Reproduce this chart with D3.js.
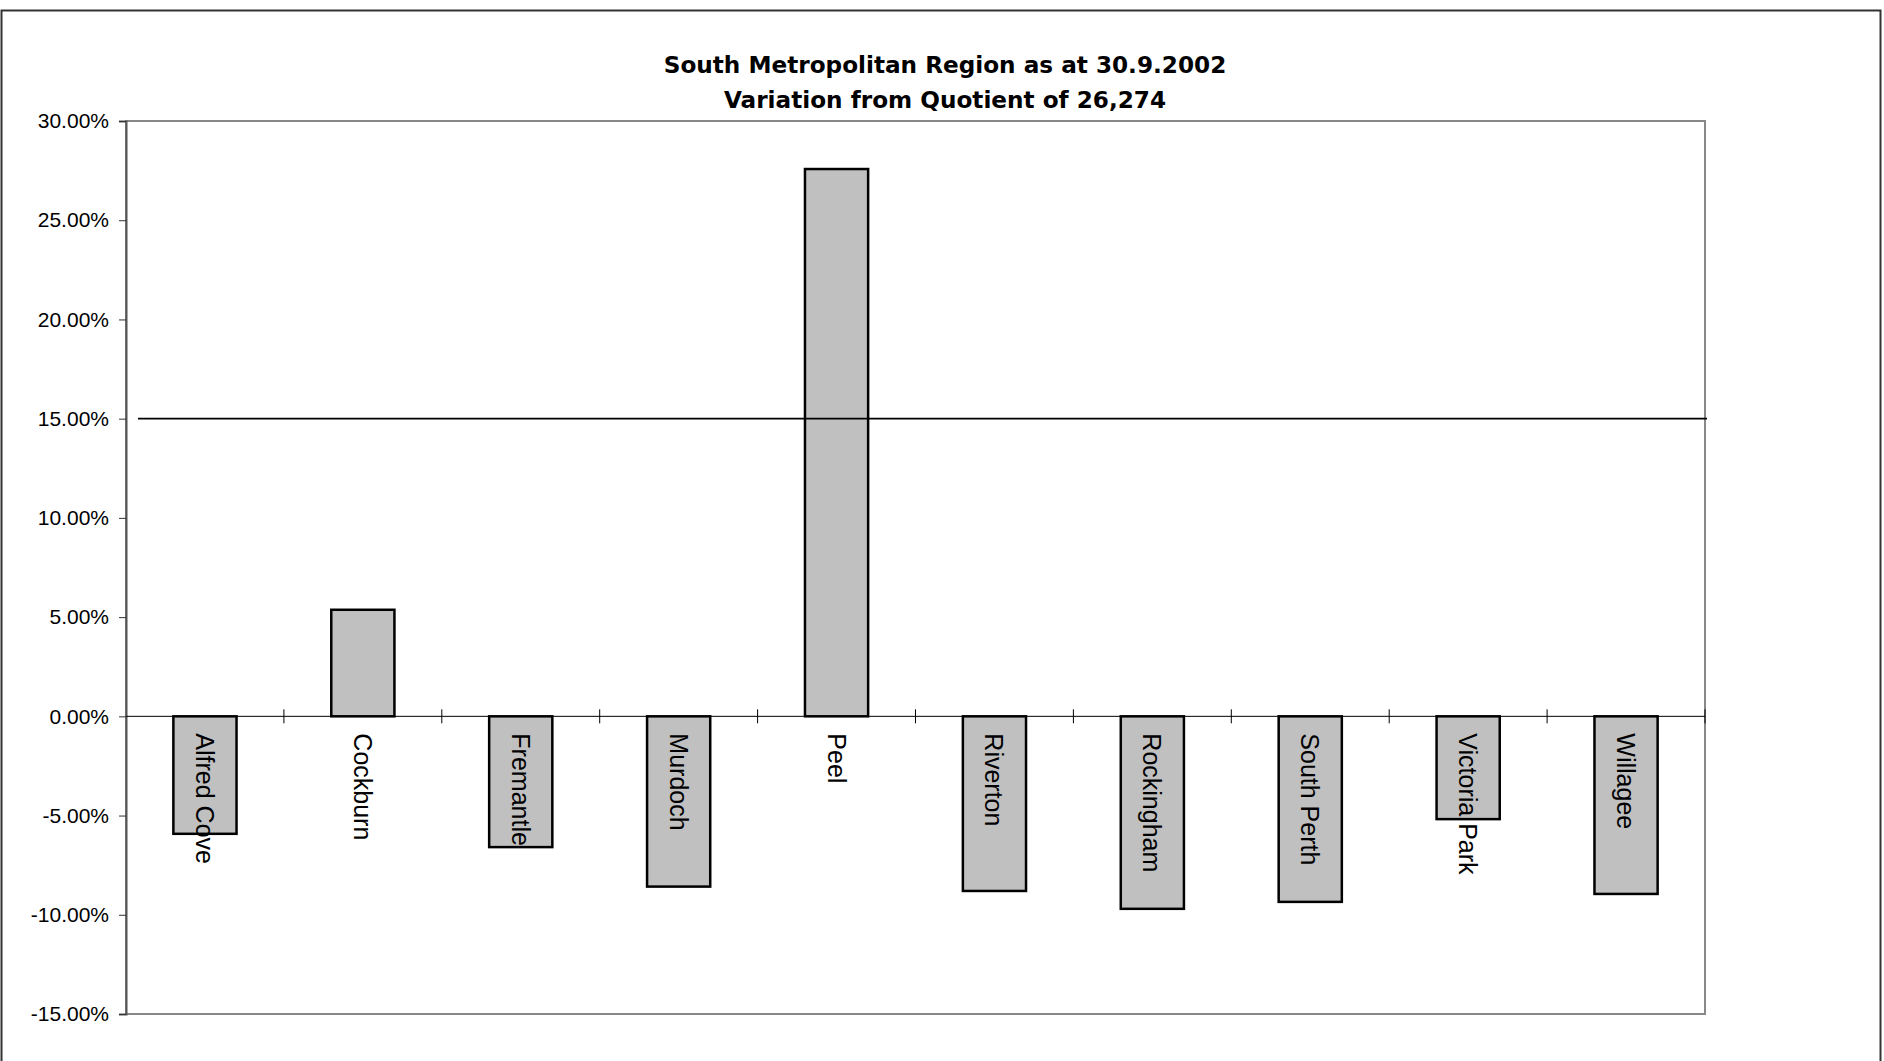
<!DOCTYPE html>
<html>
<head>
<meta charset="utf-8">
<script src="https://cdn.jsdelivr.net/npm/d3@7"></script>
<style>
  html, body { margin: 0; padding: 0; background: #fff; }
  svg { display: block; }
</style>
</head>
<body>
<svg id="chart" width="1884" height="1061"></svg>
<script>
// ---- data ----
const titleLines = ["South Metropolitan Region as at 30.9.2002", "Variation from Quotient of 26,274"];
const categories = ["Alfred Cove", "Cockburn", "Fremantle", "Murdoch", "Peel", "Riverton", "Rockingham", "South Perth", "Victoria Park", "Willagee"];
const variation = [-5.92, 5.37, -6.59, -8.58, 27.58, -8.80, -9.70, -9.35, -5.18, -8.95];
const yTicks = [-15, -10, -5, 0, 5, 10, 15, 20, 25, 30];
const yDomain = [-15, 30];
const toleranceLine = 15;

// ---- layout ----
const svg = d3.select("#chart");
const plot = { left: 126, top: 121, right: 1705, bottom: 1014 };

// outer frame
svg.append("rect")
  .attr("x", 1.5).attr("y", 10.5)
  .attr("width", 1879).attr("height", 1200)
  .attr("fill", "none").attr("stroke", "#333").attr("stroke-width", 2);

const x = d3.scaleBand().domain(categories)
  .range([plot.left, plot.right]).paddingInner(0.6).paddingOuter(0.3);
const slot = d3.scaleBand().domain(categories)
  .range([plot.left, plot.right]).padding(0);
const y = d3.scaleLinear().domain(yDomain).range([plot.bottom, plot.top]);

// plot area border
svg.append("rect")
  .attr("x", plot.left).attr("y", plot.top)
  .attr("width", plot.right - plot.left).attr("height", plot.bottom - plot.top)
  .attr("fill", "none").attr("stroke", "#888").attr("stroke-width", 2);

// y axis
const yAxis = svg.append("g")
  .attr("transform", `translate(${plot.left},0)`)
  .call(d3.axisLeft(y).tickValues(yTicks).tickSize(7).tickPadding(10)
    .tickFormat(d => d.toFixed(2) + "%"));
yAxis.select(".domain").attr("stroke", "#555").attr("stroke-width", 2);
yAxis.selectAll(".tick line").attr("stroke", "#333");
yAxis.selectAll(".tick text")
  .attr("font-family", "'Liberation Sans', Arial, sans-serif")
  .attr("font-size", 21).attr("fill", "#000");

// bars
svg.append("g").selectAll("rect")
  .data(categories.map((c, i) => ({ c, v: variation[i] })))
  .join("rect")
  .attr("x", d => x(d.c))
  .attr("width", x.bandwidth())
  .attr("y", d => y(Math.max(0, d.v)))
  .attr("height", d => Math.abs(y(d.v) - y(0)))
  .attr("fill", "#c0c0c0").attr("stroke", "#000").attr("stroke-width", 2.5);

// zero line (category axis)
svg.append("line")
  .attr("x1", plot.left).attr("x2", plot.right)
  .attr("y1", y(0)).attr("y2", y(0))
  .attr("stroke", "#000").attr("stroke-width", 1);

// category boundary ticks (crossing)
const bounds = categories.map(c => slot(c)).concat([plot.right]).slice(1);
svg.append("g").selectAll("line")
  .data(bounds).join("line")
  .attr("x1", d => d).attr("x2", d => d)
  .attr("y1", y(0) - 7).attr("y2", y(0) + 7)
  .attr("stroke", "#000").attr("stroke-width", 1);

// 15% line
svg.append("line")
  .attr("x1", plot.left + 12).attr("x2", plot.right + 2)
  .attr("y1", y(toleranceLine)).attr("y2", y(toleranceLine))
  .attr("stroke", "#000").attr("stroke-width", 1.6);

// category labels (rotated, reading downward)
svg.append("g").selectAll("text")
  .data(categories).join("text")
  .attr("transform", d => `translate(${x(d) + x.bandwidth() / 2},${y(0) + 17}) rotate(90)`)
  .attr("dominant-baseline", "central")
  .attr("text-anchor", "start")
  .attr("font-family", "'Liberation Sans', Arial, sans-serif")
  .attr("font-size", 25).attr("fill", "#000")
  .text(d => d);

// title (sized so the first line spans ~563px like the original)
const titles = svg.append("g").selectAll("text")
  .data(titleLines).join("text")
  .attr("x", 945).attr("y", (d, i) => 73 + i * 35)
  .attr("text-anchor", "middle")
  .attr("font-family", "'DejaVu Sans', 'Open Sans', sans-serif")
  .attr("font-weight", "bold")
  .attr("font-size", 22)
  .attr("fill", "#000")
  .text(d => d);
const w0 = titles.node().getComputedTextLength();
if (w0 > 0) titles.attr("font-size", 22 * 563 / w0);
</script>
</body>
</html>
